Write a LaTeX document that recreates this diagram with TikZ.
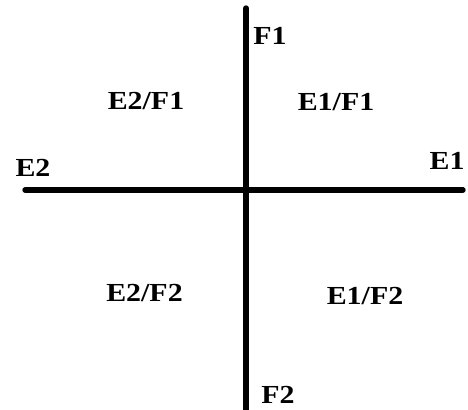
\documentclass[tikz,border=0pt]{standalone}
\usepackage{fontspec}
\newfontfamily\axisfont[FakeStretch=1.15]{Liberation Serif}
\usepackage{tikz}
\tikzset{
  axis/.style={line width=4pt, line cap=round},
  lbl/.style={font=\axisfont\bfseries\fontsize{19.5}{21}\selectfont,
              anchor=base, inner sep=0pt}
}

\begin{document}
\begin{tikzpicture}[x=0.75pt, y=-0.75pt]
  \useasboundingbox (0,0) rectangle (468,410);
  \coordinate (left) at (25,190);
  \coordinate (right) at (463,190);
  \coordinate (top) at (246,8);
  \coordinate (bottom) at (246,416);
  \draw[axis] (left) -- (right);
  \draw[axis] (top) -- (bottom);
  \node[lbl] (f1) at (270,45) {F1};
  \node[lbl] (f2) at (278,403) {F2};
  \node[lbl] (e2) at (33,176) {E2};
  \node[lbl] (e1) at (447,170) {E1};
  \node[lbl] (e2f1) at (146,109) {E2/F1};
  \node[lbl] (e1f1) at (336,110.5) {E1/F1};
  \node[lbl] (e2f2) at (144.5,301) {E2/F2};
  \node[lbl] (e1f2) at (365,304) {E1/F2};
\end{tikzpicture}
\end{document}
